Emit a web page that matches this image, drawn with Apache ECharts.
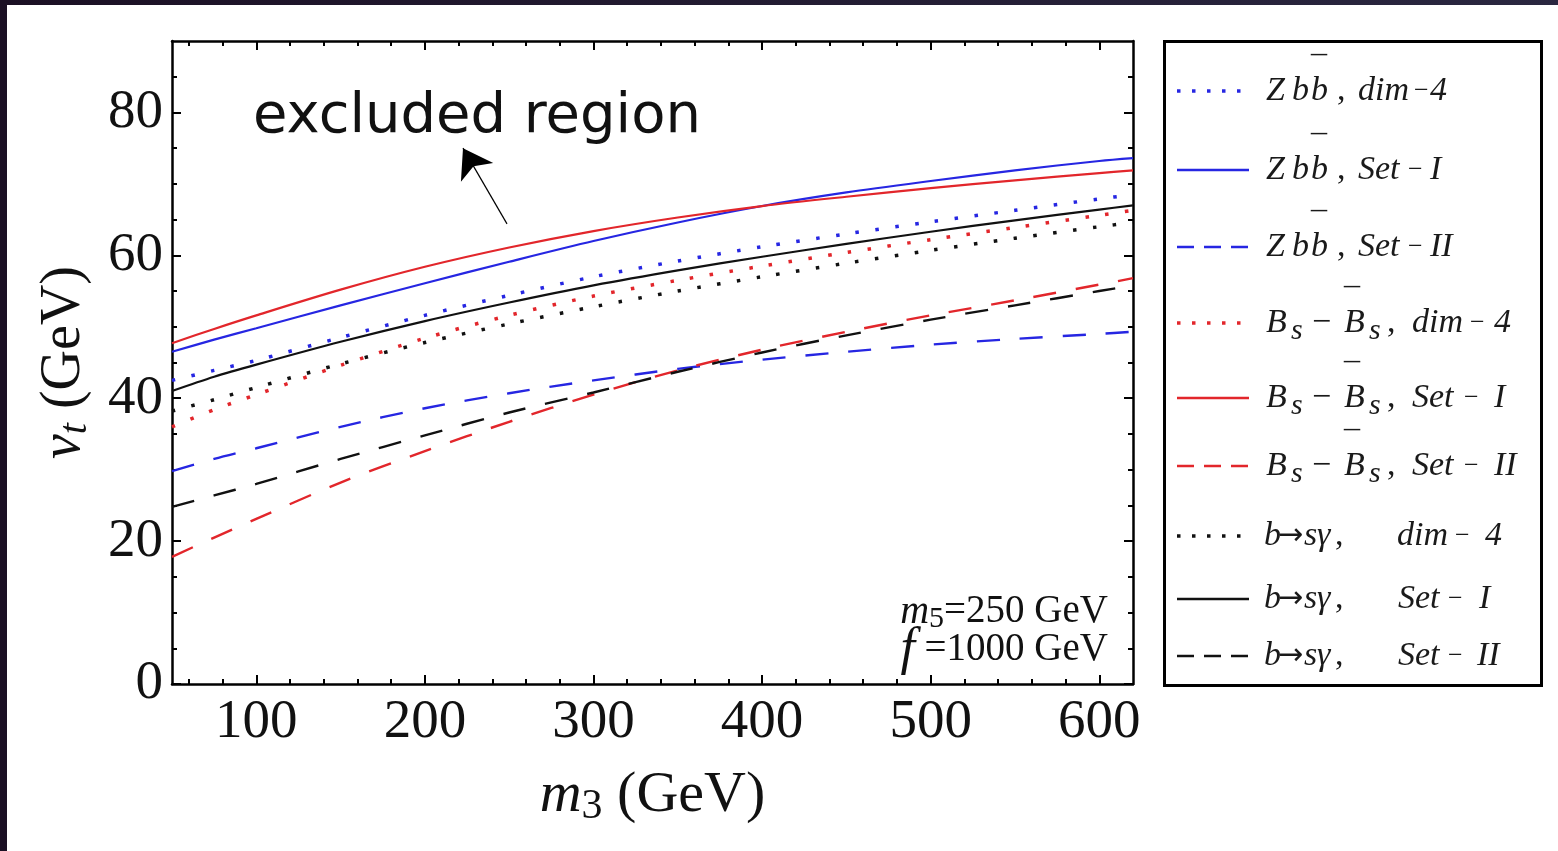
<!DOCTYPE html>
<html>
<head>
<meta charset="utf-8">
<title>v_t bounds vs m3</title>
<script src="https://cdn.jsdelivr.net/npm/echarts@6/dist/echarts.min.js"></script>
<style>
  html, body { margin: 0; padding: 0; width: 1558px; height: 851px; overflow: hidden;
    background: linear-gradient(90deg, #1b1024, #2a2740); }
  #chart { position: absolute; left: 7px; top: 5px; width: 1551px; height: 846px; background: #fff; }
</style>
</head>
<body>
<div id="chart"></div>
<script>
// m3 (GeV) where the curves were read
const m3 = [50, 75, 100, 150, 200, 250, 300, 350, 400, 450, 500, 550, 600, 620];

// v_t (GeV)
const zbbDim4  = [42.5, 43.9, 45.3, 48.5, 51.6, 54.4, 57.0, 59.2, 61.2, 63.0, 64.7, 66.3, 67.9, 68.5];
const zbbSetI  = [46.5, 48.2, 49.8, 53.0, 56.1, 59.1, 62.0, 64.6, 66.9, 68.8, 70.4, 71.9, 73.2, 73.6];
const zbbSetII = [29.8, 31.5, 33.0, 36.0, 38.6, 40.7, 42.5, 44.1, 45.4, 46.5, 47.5, 48.3, 49.0, 49.3];
const bsDim4   = [36.0, 38.4, 40.5, 44.6, 48.4, 51.6, 54.3, 56.5, 58.5, 60.4, 62.2, 63.9, 65.6, 66.3];
const bsSetI   = [47.7, 49.7, 51.6, 55.2, 58.4, 61.1, 63.4, 65.3, 66.9, 68.2, 69.4, 70.5, 71.5, 71.9];
const bsSetII  = [17.8, 20.5, 23.1, 28.2, 32.6, 36.7, 40.5, 43.9, 46.8, 49.3, 51.6, 53.7, 55.9, 56.8];
const bsgDim4  = [38.2, 39.8, 41.5, 44.8, 47.8, 50.4, 52.8, 55.0, 57.0, 58.9, 60.7, 62.4, 64.0, 64.6];
const bsgSetI  = [41.0, 43.0, 44.7, 47.9, 50.8, 53.4, 55.8, 57.9, 59.8, 61.6, 63.3, 64.9, 66.4, 67.0];
const bsgSetII = [24.8, 26.4, 28.0, 31.5, 34.8, 38.0, 40.8, 43.7, 46.4, 48.8, 51.0, 53.0, 55.0, 55.8];

// ticks
const xTicks = [100, 200, 300, 400, 500, 600];
const xMinorTicks = [60, 80, 120, 140, 160, 180, 220, 240, 260, 280, 320, 340, 360, 380,
  420, 440, 460, 480, 520, 540, 560, 580];
const yTicks = [0, 20, 40, 60, 80];
const yMinorTicks = [5, 10, 15, 25, 30, 35, 45, 50, 55, 65, 70, 75, 85];

// arrow of the "excluded region" note, in data coords [m3, v_t]
const arrowTail = [248.7, 64.4];
const arrowTip = [222.6, 75.0];

const SERIF = "'Liberation Serif', 'Times New Roman', serif";
const BLUE = '#2626e2';
const RED = '#e2262b';
const BLACK = '#111111';

const DOT = [3.5, 16.5];
const DASH = [23, 20];

const seriesDefs = [
  { name: 'Zbb, dim-4',  data: zbbDim4,  color: BLUE,  kind: 'dot' },
  { name: 'Zbb, Set-I',  data: zbbSetI,  color: BLUE,  kind: 'solid' },
  { name: 'Zbb, Set-II', data: zbbSetII, color: BLUE,  kind: 'dash' },
  { name: 'BsBs, dim-4',  data: bsDim4,  color: RED,   kind: 'dot' },
  { name: 'BsBs, Set-I',  data: bsSetI,  color: RED,   kind: 'solid' },
  { name: 'BsBs, Set-II', data: bsSetII, color: RED,   kind: 'dash' },
  { name: 'bsg, dim-4',  data: bsgDim4,  color: BLACK, kind: 'dot' },
  { name: 'bsg, Set-I',  data: bsgSetI,  color: BLACK, kind: 'solid' },
  { name: 'bsg, Set-II', data: bsgSetII, color: BLACK, kind: 'dash' }
];

// legend label pieces: [style, text, width]
const M = '\u2212';
const legendRows = [
  [['gap', '', 12], ['it', 'Z', 26], ['it', 'b', 19], ['bar', '\u00af', 0], ['it', 'b', 26], ['up', ',', 21], ['it', 'dim', 56], ['mi', M, 16], ['it', '4']],
  [['gap', '', 12], ['it', 'Z', 26], ['it', 'b', 19], ['bar', '\u00af', 0], ['it', 'b', 26], ['up', ',', 21], ['it', 'Set', 50], ['mi', M, 22], ['it', 'I']],
  [['gap', '', 12], ['it', 'Z', 26], ['it', 'b', 19], ['bar', '\u00af', 0], ['it', 'b', 26], ['up', ',', 21], ['it', 'Set', 50], ['mi', M, 22], ['it', 'II']],
  [['gap', '', 12], ['it', 'B', 25], ['sub', 's', 21], ['up', M, 32], ['bar', '\u00af', 0], ['it', 'B', 25], ['sub', 's', 18], ['up', ',', 25], ['it', 'dim', 58], ['mi', M, 24], ['it', '4']],
  [['gap', '', 12], ['it', 'B', 25], ['sub', 's', 21], ['up', M, 32], ['bar', '\u00af', 0], ['it', 'B', 25], ['sub', 's', 18], ['up', ',', 25], ['it', 'Set', 52], ['mi', M, 30], ['it', 'I']],
  [['gap', '', 12], ['it', 'B', 25], ['sub', 's', 21], ['up', M, 32], ['bar', '\u00af', 0], ['it', 'B', 25], ['sub', 's', 18], ['up', ',', 25], ['it', 'Set', 52], ['mi', M, 30], ['it', 'II']],
  [['gap', '', 10], ['it', 'b', 14], ['ar', '\u2192', 26], ['it', 's', 13], ['it', '\u03b3', 18], ['up', ',', 62], ['it', 'dim', 58], ['mi', M, 30], ['it', '4']],
  [['gap', '', 10], ['it', 'b', 14], ['ar', '\u2192', 26], ['it', 's', 13], ['it', '\u03b3', 18], ['up', ',', 63], ['it', 'Set', 50], ['mi', M, 31], ['it', 'I']],
  [['gap', '', 10], ['it', 'b', 14], ['ar', '\u2192', 26], ['it', 's', 13], ['it', '\u03b3', 18], ['up', ',', 63], ['it', 'Set', 50], ['mi', M, 29], ['it', 'II']]
];
// icon centre of each legend row (chart px)
const legendRowY = [86, 165, 242, 318, 393, 461, 531, 594, 651];
const LEG_H = 110;

const tokenBase = {
  gap: {},
  it: { fontFamily: SERIF, fontStyle: 'italic', fontSize: 34 },
  up: { fontFamily: SERIF, fontStyle: 'normal', fontSize: 34 },
  mi: { fontFamily: SERIF, fontStyle: 'normal', fontSize: 26 },
  ar: { fontFamily: "'DejaVu Sans', sans-serif", fontStyle: 'normal', fontSize: 30 },
  sub: { fontFamily: SERIF, fontStyle: 'italic', fontSize: 30, padding: [17, 0, 0, 0] },
  bar: { fontFamily: SERIF, fontStyle: 'normal', fontSize: 32, padding: [0, 0, 42, 0] }
};

function buildLabel(parts) {
  const rich = {};
  let text = '';
  parts.forEach((p, i) => {
    const key = 'p' + i;
    const st = Object.assign({ color: '#1a1a1a', lineHeight: 40 }, tokenBase[p[0]]);
    if (p[2] != null) st.width = p[2];
    rich[key] = st;
    text += '{' + key + '|' + p[1] + '}';
  });
  return { text, rich };
}

const series = seriesDefs.map((d, i) => {
  const s = {
    name: d.name,
    type: 'line',
    xAxisIndex: 0,
    yAxisIndex: 0,
    data: m3.map((x, k) => [x, d.data[k]]),
    smooth: 0.3,
    symbol: 'none',
    animation: false,
    silent: true,
    color: d.color,
    lineStyle: {
      color: d.color,
      width: d.kind === 'dot' ? 3.5 : (d.kind === 'dash' ? 2.4 : 2.2),
      type: d.kind === 'dot' ? DOT : (d.kind === 'dash' ? DASH : 'solid')
    },
    emphasis: { disabled: true }
  };
  if (i === 0) {
    s.markLine = {
      silent: true,
      animation: false,
      symbol: ['none', 'arrow'],
      symbolSize: 28,
      label: { show: false },
      emphasis: { disabled: true },
      lineStyle: { color: '#000', width: 1.2, type: 'solid' },
      data: [[{ coord: arrowTail }, { coord: arrowTip }]]
    };
  }
  return s;
});

// the (hidden) legend symbol is 0.8*itemHeight wide, so the box is shifted to keep the icon in place
const legends = seriesDefs.map((d, i) => {
  const lab = buildLabel(legendRows[i]);
  return {
    data: [d.name],
    left: 1170 - (LEG_H * 0.8 - 72) / 2,
    top: legendRowY[i] - LEG_H * 0.4,
    padding: 0,
    itemWidth: 72,
    itemHeight: LEG_H,
    selectedMode: false,
    formatter: () => lab.text,
    textStyle: { rich: lab.rich, color: '#1a1a1a', fontFamily: SERIF, fontStyle: 'italic', fontSize: 34, lineHeight: 40 },
    itemStyle: { opacity: 0 },
    lineStyle: {
      width: d.kind === 'dot' ? 3.5 : 2.5,
      type: d.kind === 'dot' ? [3.5, 11.5] : (d.kind === 'dash' ? [17, 10] : 'solid')
    }
  };
});

const frameLine = { show: true, onZero: false, lineStyle: { color: '#000', width: 2.5 } };
const tickLine = { color: '#000', width: 2 };
const labelFont = { fontFamily: SERIF, fontSize: 55, color: '#111' };

function xPair(position, labels) {
  const major = {
    type: 'value', position, min: 50, max: 620,
    axisLine: frameLine,
    axisTick: { show: true, inside: true, length: 9, lineStyle: tickLine, customValues: xTicks },
    axisLabel: Object.assign({ show: labels, margin: 11, customValues: xTicks }, labelFont),
    splitLine: { show: false }
  };
  if (labels) {
    Object.assign(major, {
      name: '{i|m}{s|3}{n| (GeV)}',
      nameLocation: 'middle',
      nameGap: 80,
      nameTextStyle: {
        color: '#111',
        rich: {
          i: { fontFamily: SERIF, fontStyle: 'italic', fontSize: 58, lineHeight: 64 },
          s: { fontFamily: SERIF, fontSize: 42, lineHeight: 64, padding: [22, 0, 0, 0] },
          n: { fontFamily: SERIF, fontSize: 58, lineHeight: 64 }
        }
      }
    });
  }
  const minor = {
    type: 'value', position, min: 50, max: 620,
    axisLine: { show: false, onZero: false },
    axisTick: { show: true, inside: true, length: 5, lineStyle: tickLine, customValues: xMinorTicks },
    axisLabel: { show: false },
    splitLine: { show: false }
  };
  return [major, minor];
}

function yPair(position, labels) {
  const major = {
    type: 'value', position, min: 0, max: 90,
    axisLine: frameLine,
    axisTick: { show: true, inside: true, length: 9, lineStyle: tickLine, customValues: yTicks },
    axisLabel: Object.assign({ show: labels, margin: 9, customValues: yTicks }, labelFont),
    splitLine: { show: false }
  };
  if (labels) {
    Object.assign(major, {
      name: '{i|v}{s|t}{n| (GeV)}',
      nameLocation: 'middle',
      nameRotate: 90,
      nameGap: 76,
      nameTextStyle: {
        color: '#111',
        rich: {
          i: { fontFamily: SERIF, fontStyle: 'italic', fontSize: 56, lineHeight: 64 },
          s: { fontFamily: SERIF, fontStyle: 'italic', fontSize: 40, lineHeight: 64, padding: [22, 0, 0, 0] },
          n: { fontFamily: SERIF, fontSize: 56, lineHeight: 64 }
        }
      }
    });
  }
  const minor = {
    type: 'value', position, min: 0, max: 90,
    axisLine: { show: false, onZero: false },
    axisTick: { show: true, inside: true, length: 5, lineStyle: tickLine, customValues: yMinorTicks },
    axisLabel: { show: false },
    splitLine: { show: false }
  };
  return [major, minor];
}

const chart = echarts.init(document.getElementById('chart'), null, { renderer: 'canvas' });

chart.setOption({
  animation: false,
  backgroundColor: '#ffffff',
  textStyle: { fontFamily: SERIF },
  grid: { left: 165, top: 36, width: 961, height: 643 },
  xAxis: xPair('bottom', true).concat(xPair('top', false)),
  yAxis: yPair('left', true).concat(yPair('right', false)),
  legend: legends,
  series: series,
  graphic: [
    {
      type: 'rect', silent: true, z: 0,
      shape: { x: 1157.5, y: 36.5, width: 377, height: 644 },
      style: { fill: 'none', stroke: '#000', lineWidth: 3 }
    },
    {
      type: 'text', silent: true, x: 246, y: 112,
      style: {
        text: 'excluded region', fill: '#111',
        font: "56px 'DejaVu Sans', sans-serif",
        textAlign: 'left', align: 'left', textVerticalAlign: 'middle', verticalAlign: 'middle'
      }
    },
    {
      type: 'text', silent: true, x: 1101, y: 607,
      style: {
        text: '{i|m}{s|5}{n|=250 GeV}',
        textAlign: 'right', align: 'right', textVerticalAlign: 'middle', verticalAlign: 'middle',
        rich: {
          i: { fontFamily: SERIF, fontStyle: 'italic', fontSize: 40, lineHeight: 40, fill: '#111', color: '#111' },
          s: { fontFamily: SERIF, fontSize: 30, lineHeight: 40, padding: [14, 0, 0, 0], fill: '#111', color: '#111' },
          n: { fontFamily: SERIF, fontSize: 39, lineHeight: 40, fill: '#111', color: '#111' }
        }
      }
    },
    {
      type: 'text', silent: true, x: 1101, y: 645,
      style: {
        text: '{f|f}{n| =1000 GeV}',
        textAlign: 'right', align: 'right', textVerticalAlign: 'middle', verticalAlign: 'middle',
        rich: {
          f: { fontFamily: SERIF, fontStyle: 'italic', fontSize: 52, lineHeight: 40, fill: '#111', color: '#111' },
          n: { fontFamily: SERIF, fontSize: 39, lineHeight: 40, fill: '#111', color: '#111' }
        }
      }
    }
  ]
});
</script>
</body>
</html>
